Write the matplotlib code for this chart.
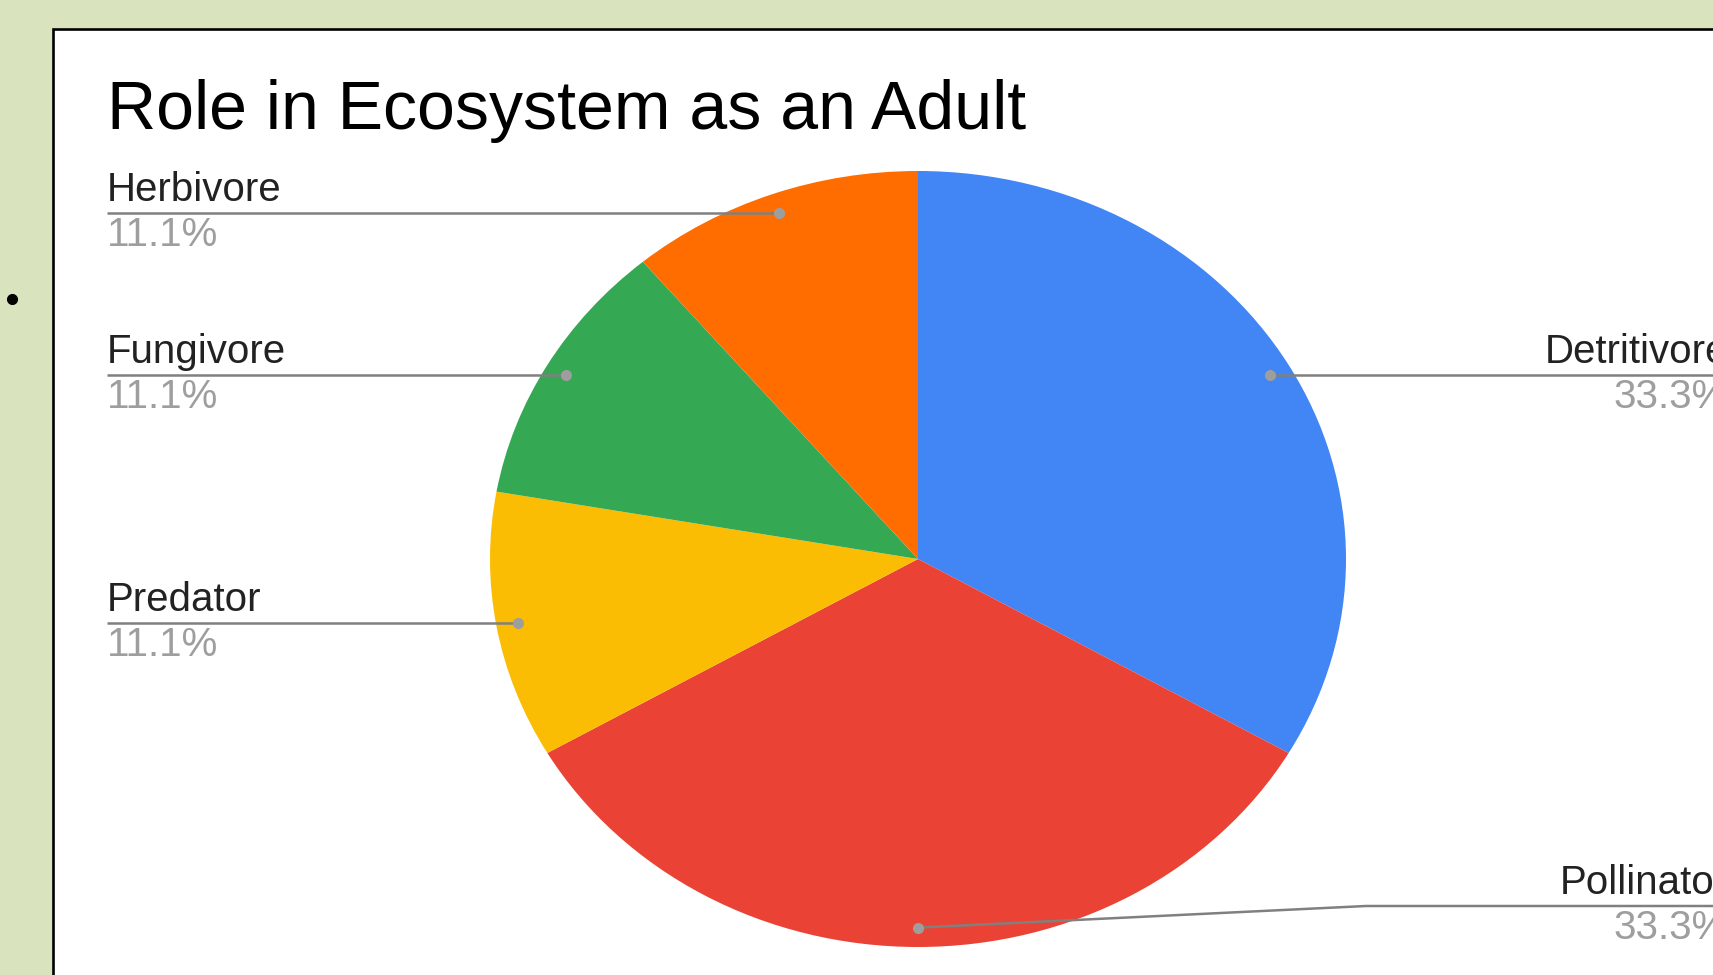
import matplotlib
matplotlib.use("Agg")
import matplotlib.pyplot as plt
import numpy as np
from matplotlib.patches import Rectangle

plt.rcParams["font.family"] = ["Liberation Sans", "DejaVu Sans"]

# ─── data ────────────────────────────────────────────────────────────────────
title = "Role in Ecosystem as an Adult"
roles = ["Detritivore", "Pollinator", "Predator", "Fungivore", "Herbivore"]
counts = [3, 3, 1, 1, 1]
colors = ["#4285F4", "#EA4335", "#FBBC04", "#34A853", "#FF6D01"]

# ─── layout (pixels) ─────────────────────────────────────────────────────────
W, H = 1713, 975
CX, CY = 918, 559          # pie centre
RX, RY = 428, 388          # pie is stretched horizontally in the screenshot
LEFT_X = 107               # left label column
RIGHT_X = 1728             # right label column (cut by image edge)
BOTTOM_Y = 906             # lowest label line
BEND_X = 1366

LINE_C = "#808080"
DOT_C = "#9e9e9e"
LABEL_C = "#222222"
PCT_C = "#9e9e9e"
FS = 29


def px(x):
    return (x - CX) / RX


def py(y):
    return (CY - y) / RY


fig = plt.figure(figsize=(W / 100, H / 100), dpi=100)

# background: green page + white chart card with black border
bg = fig.add_axes([0, 0, 1, 1])
bg.set_xlim(0, W)
bg.set_ylim(H, 0)
bg.axis("off")
bg.add_patch(Rectangle((0, 0), W, H, color="#d9e4bf", zorder=0))
bg.add_patch(Rectangle((53, 28.5), W, H, facecolor="white",
                       edgecolor="black", linewidth=1.9, zorder=1))
bg.plot([12], [299], "o", color="black", markersize=7, zorder=2)
bg.text(LEFT_X, 129, title, fontsize=49, color="black",
        ha="left", va="baseline", zorder=3)

# pie
ax = fig.add_axes([(CX - RX) / W, (H - CY - RY) / H, 2 * RX / W, 2 * RY / H])
wedges, _ = ax.pie(counts, colors=colors, startangle=90, counterclock=False,
                   wedgeprops={"linewidth": 0})
ax.set_aspect("auto")
ax.set_xlim(-1, 1)
ax.set_ylim(-1, 1)
ax.axis("off")

total = sum(counts)
for w, role, n in zip(wedges, roles, counts):
    mid = np.deg2rad((w.theta1 + w.theta2) / 2)
    dx, dy = 0.95 * np.cos(mid), 0.95 * np.sin(mid)
    pct = f"{100 * n / total:.1f}%"
    if dx < -0.05:
        xs, ys = [dx, px(LEFT_X)], [dy, dy]
        tx, ha, ly = px(LEFT_X), "left", dy
    else:
        ly = max(dy, py(BOTTOM_Y))
        if ly != dy:
            xs, ys = [dx, px(BEND_X), px(W + 10)], [dy, ly, ly]
        else:
            xs, ys = [dx, px(W + 10)], [dy, dy]
        tx, ha = px(RIGHT_X), "right"
    ax.plot(xs, ys, color=LINE_C, linewidth=1.8, clip_on=False, zorder=4,
            solid_capstyle="butt")
    ax.plot([dx], [dy], "o", color=DOT_C, markersize=7, clip_on=False, zorder=5)
    ax.text(tx, ly + 12 / RY, role, fontsize=FS, color=LABEL_C, ha=ha,
            va="baseline", clip_on=False)
    ax.text(tx, ly - 3 / RY, pct, fontsize=FS, color=PCT_C, ha=ha,
            va="top", clip_on=False)

fig.savefig("out.png", dpi=100)
